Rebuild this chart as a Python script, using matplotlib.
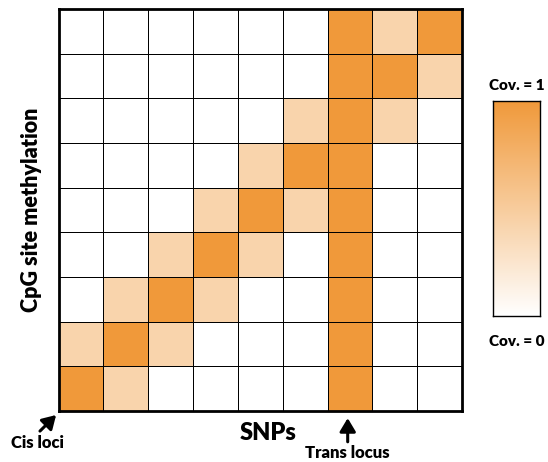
import numpy as np
import matplotlib
matplotlib.use("Agg")
import matplotlib.pyplot as plt
from matplotlib.colors import LinearSegmentedColormap

# rows listed top to bottom, columns left to right; 0 = none, 0.42 = weak, 1 = strong
cov = [
    [0, 0, 0, 0, 0, 0, 1, 0.42, 1],
    [0, 0, 0, 0, 0, 0, 1, 1, 0.42],
    [0, 0, 0, 0, 0, 0.42, 1, 0.42, 0],
    [0, 0, 0, 0, 0.42, 1, 1, 0, 0],
    [0, 0, 0, 0.42, 1, 0.42, 1, 0, 0],
    [0, 0, 0.42, 1, 0.42, 0, 1, 0, 0],
    [0, 0.42, 1, 0.42, 0, 0, 1, 0, 0],
    [0.42, 1, 0.42, 0, 0, 0, 1, 0, 0],
    [1, 0.42, 0, 0, 0, 0, 1, 0, 0],
]
data = np.array(cov)

plt.rcParams['font.family'] = ['Lato', 'DejaVu Sans']
W = "heavy"
cmap = LinearSegmentedColormap.from_list("cov", ["#FFFFFF", "#F0993A"])

fig = plt.figure(figsize=(5.48, 4.62), dpi=100)
ax = fig.add_axes([0.1068, 0.1104, 0.7363, 0.870])
nr, nc = data.shape
ax.pcolormesh(np.arange(nc + 1), np.arange(nr + 1), data[::-1], cmap=cmap,
              vmin=0, vmax=1, edgecolor="black", linewidth=0.7)
ax.set_xlim(0, nc)
ax.set_ylim(0, nr)
ax.set_xticks([])
ax.set_yticks([])
for s in ax.spines.values():
    s.set_linewidth(2)

ax.set_ylabel("CpG site methylation", fontsize=15.5, fontweight=W, labelpad=12)
ax.text(0.52, -0.055, "SNPs", transform=ax.transAxes, ha="center", va="center",
        fontsize=17, fontweight=W)

arrow = dict(arrowstyle="-|>,head_length=0.5,head_width=0.3", color="black", lw=2.2,
             mutation_scale=16, shrinkA=0, shrinkB=0)
# Cis loci
ax.annotate("", xy=(-0.006, -0.01), xytext=(-0.046, -0.05), xycoords="axes fraction",
            textcoords="axes fraction", arrowprops=arrow, annotation_clip=False)
ax.text(-0.053, -0.08, "Cis loci", transform=ax.transAxes, ha="center", va="center",
        fontsize=12, fontweight=W)
# Trans locus
ax.annotate("", xy=(6.45, -0.16), xytext=(6.45, -0.69), xycoords="data",
            arrowprops=arrow, annotation_clip=False)
ax.text(6.45, -0.94, "Trans locus", ha="center", va="center",
        fontsize=12, fontweight=W)

# colour bar
cax = fig.add_axes([0.8996, 0.316, 0.0858, 0.4654])
grad = np.linspace(0, 1, 256).reshape(-1, 1)
cax.imshow(grad, aspect="auto", cmap=cmap, origin="lower", extent=[0, 1, 0, 1])
cax.set_xticks([])
cax.set_yticks([])
for s in cax.spines.values():
    s.set_linewidth(1)
cax.text(0.5, 1.07, "Cov. = 1", transform=cax.transAxes, ha="center", va="center",
         fontsize=11, fontweight=W)
cax.text(0.5, -0.12, "Cov. = 0", transform=cax.transAxes, ha="center", va="center",
         fontsize=11, fontweight=W)

fig.savefig("out.png", dpi=100)
